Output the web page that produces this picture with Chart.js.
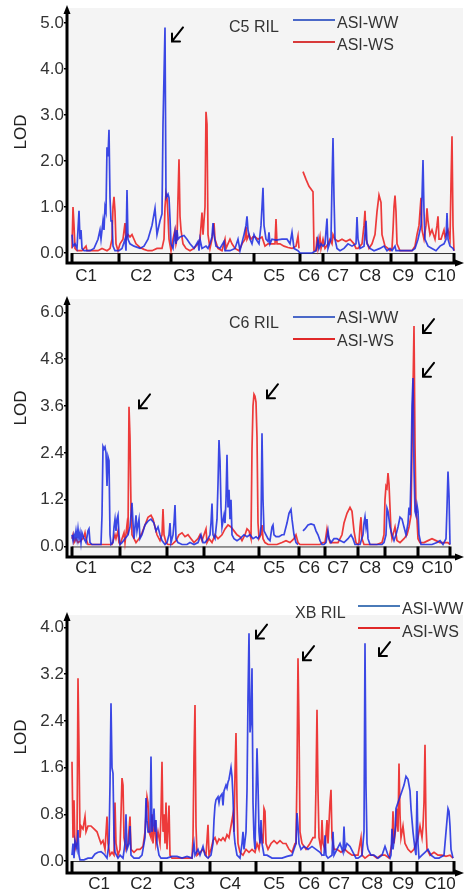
<!DOCTYPE html>
<html>
<head>
  <title>ASI LOD profiles</title>
  <script src="https://cdn.jsdelivr.net/npm/chart.js"></script>
  <style>
    body {
      margin: 0;
      background: #fff;
      font-family: 'Liberation Sans', Arial, sans-serif;
      width: 466px;
      height: 893px;
      position: relative;
      overflow: hidden;
    }
    canvas { position: absolute; left: 0; }
    .txt { position: absolute; font-size: 16px; color: #333; line-height: 18px; white-space: nowrap; }
    .lod { position: absolute; font-size: 17px; color: #222; transform: rotate(-90deg); transform-origin: center; width: 40px; text-align: center; line-height: 20px; }
    .key { position: absolute; width: 42px; height: 2px; }
  </style>
</head>
<body>
  <canvas id="c5" width="466" height="290" style="top:0"></canvas>
  <canvas id="c6" width="466" height="300" style="top:290px"></canvas>
  <canvas id="xb" width="466" height="303" style="top:590px"></canvas>

  <!-- axis titles and legends -->
  <div class="lod" style="left:1px;top:122px">LOD</div>
  <div class="lod" style="left:1px;top:398px">LOD</div>
  <div class="lod" style="left:1px;top:727px">LOD</div>

  <div class="txt" style="left:229px;top:18px">C5 RIL</div>
  <div class="key" style="left:293px;top:19px;background:#4a68c8"></div>
  <div class="txt" style="left:337px;top:14px">ASI-WW</div>
  <div class="key" style="left:293px;top:41px;background:#d83a3a"></div>
  <div class="txt" style="left:337px;top:36px">ASI-WS</div>

  <div class="txt" style="left:229px;top:314px">C6 RIL</div>
  <div class="key" style="left:293px;top:316px;background:#4a68c8"></div>
  <div class="txt" style="left:337px;top:309px">ASI-WW</div>
  <div class="key" style="left:293px;top:338px;background:#e02828"></div>
  <div class="txt" style="left:337px;top:332px">ASI-WS</div>

  <div class="txt" style="left:295px;top:604px">XB RIL</div>
  <div class="key" style="left:358px;top:605px;background:#4a7ab8"></div>
  <div class="txt" style="left:402px;top:600px">ASI-WW</div>
  <div class="key" style="left:358px;top:627px;background:#e02828"></div>
  <div class="txt" style="left:402px;top:623px">ASI-WS</div>

  <script>
    // chromosome names and layout along the genome axis (position units)
    const chromNames = ['C1', 'C2', 'C3', 'C4', 'C5', 'C6', 'C7', 'C8', 'C9', 'C10'];

    const c5Bounds = [0, 47, 99, 138, 182, 228, 251, 285, 319, 344, 382];
    const c5LabelPos = [14, 69, 112, 150, 202, 237, 266, 298, 331, 368];
    const c5Ticks = [0, 1, 2, 3, 4, 5];
    const c5Arrows = [[100, 4.6]];

    const c6Bounds = [0, 48, 95, 132, 187, 227, 253, 286, 313, 346, 378];
    const c6LabelPos = [14, 69, 112, 152, 202, 237, 266, 298, 331, 365];
    const c6Ticks = [0, 1.2, 2.4, 3.6, 4.8, 6.0];
    const c6Arrows = [[67, 3.54], [195, 3.8], [351, 5.47], [351, 4.35]];

    const xbBounds = [0, 47, 89, 138, 184, 228, 251, 285, 319, 345, 382];
    const xbLabelPos = [27, 69, 112, 158, 202, 237, 267, 300, 331, 368];
    const xbTicks = [0, 0.8, 1.6, 2.4, 3.2, 4.0];
    const xbArrows = [[184, 3.81], [231, 3.44], [307, 3.51]];

    // LOD profiles, [position, LOD]
    const c5WW = [[0,0.4],[1,0.15],[3,0.2],[5,0.1],[7,0.92],[8,0.3],[9,0.5],[10,0.1],[12,0.05],[18,0.05],[22,0.1],[26,0.3],[28,0.5],[29,0.3],[31,0.7],[32,0.5],[33,1.0],[34,0.9],[35,2.3],[36,2.1],[37,2.68],[38,1.2],[39,0.7],[40,0.7],[41,0.15],[43,0.05],
      [47,0.05],[50,0.1],[53,0.3],[54,0.05],[55,1.37],[56,0.3],[58,0.2],[62,0.15],[68,0.1],[72,0.15],[76,0.3],[78,0.45],[80,0.6],[83,0.97],[85,0.4],[88,0.7],[90,0.85],[91,2.8],[93,4.9],[94,1.2],[96,1.28],[97,1.2],[98,0.75],[99,0.2],
      [101,0.1],[103,0.45],[104,0.2],[105,0.5],[106,0.3],[108,0.35],[112,0.38],[115,0.3],[118,0.2],[122,0.1],[126,0.25],[127,0.05],[128,0.3],[130,0.1],[134,0.15],[136,0.1],[138,0.2],
      [140,0.35],[141,0.65],[142,0.4],[144,0.15],[148,0.1],[152,0.25],[153,0.05],[158,0.05],[163,0.1],[166,0.3],[168,0.05],[172,0.4],[174,0.6],[175,0.8],[176,0.5],[178,0.3],[180,0.2],[182,0.4],
      [184,0.3],[187,0.2],[189,0.6],[190,1.0],[191,1.42],[192,0.6],[194,0.3],[196,0.25],[197,0.45],[198,0.2],[200,0.3],[204,0.28],[210,0.3],[215,0.3],[218,0.2],[220,0.45],[222,0.1],[226,0.05],
      [228,0],[240,0],[244,0.05],[246,0.3],[247,0.1],[249,0.2],[251,0.15],
      [253,0.2],[255,0.75],[256,0.1],[259,0.3],[260,1.5],[261,2.5],[262,1.2],[263,0.3],[265,0.1],[268,0.05],[272,0.1],[276,0.2],[280,0.15],[284,0.2],
      [285,0.78],[286,0.3],[288,0.1],[292,0.15],[294,0.7],[295,0.2],[298,0.1],[302,0.05],[308,0.1],[312,0.15],[315,0.05],[318,0.1],
      [320,0.05],[323,0.15],[324,0.05],[330,0.05],[336,0.05],[340,0.05],[343,0.1],
      [346,0.3],[349,0.6],[350,1.2],[351,2.02],[352,0.9],[353,0.3],[356,0.15],[360,0.1],[364,0.05],[368,0.15],[372,0.2],[374,0.3],[375,0.87],[376,0.3],[378,0.15],[381,0.1],[382,0.05]];

    const c5WS = [[0,0.1],[1,1.0],[2,0.6],[3,0.1],[5,0.05],[10,0.05],[14,0.15],[15,0.05],[20,0.05],[26,0.05],[30,0.1],[35,0.05],[38,0.1],[40,0.3],[41,1.0],[42,1.22],[43,0.9],[44,0.2],[46,0.05],
      [48,0.2],[51,0.3],[53,0.65],[54,0.3],[56,0.4],[58,0.35],[60,0.4],[62,0.3],[64,0.2],[68,0.12],[72,0.08],[76,0.05],[80,0.05],[85,0.1],[90,0.1],[92,0.3],[93,1.0],[94,1.3],[95,1.2],[96,0.8],[97,0.3],[99,0.05],
      [101,0.3],[103,0.5],[104,0.2],[105,0.3],[106,1.2],[107,2.04],[108,0.8],[109,0.5],[111,0.2],[114,0.1],[118,0.05],[122,0.1],[126,0.2],[128,0.3],[130,0.88],[131,0.4],[133,1.0],[134,3.07],[135,2.8],[136,0.4],[138,0.1],
      [140,0.3],[142,0.65],[143,0.3],[146,0.1],[150,0.05],[153,0.3],[154,0.1],[158,0.3],[160,0.2],[163,0.1],[167,0.05],[170,0.2],[173,0.3],[174,0.57],[175,0.3],[177,0.4],[179,0.3],[181,0.35],
      [183,0.35],[186,0.3],[190,0.35],[193,0.15],[196,0.2],[200,0.2],[203,0.2],[204,0.74],[205,0.2],[208,0.2],[212,0.15],[216,0.12],[220,0.1],[224,0.15],[226,0.37],[227,0.1],
      [229,null],[231,1.77],[234,1.6],[237,1.45],[241,1.33],[242,0.05],[244,0.05],[245,0.35],[246,0.1],[248,0.35],[249,0.1],[251,0.3],
      [253,0.1],[256,0.2],[258,0.3],[260,0.2],[261,0.4],[263,0.3],[266,0.25],[270,0.3],[274,0.25],[278,0.3],[282,0.2],[284,0.1],
      [286,0.1],[290,0.2],[292,0.6],[293,0.92],[294,0.3],[297,0.1],[300,0.2],[303,0.4],[305,0.9],[307,1.26],[309,1.1],[310,0.4],[313,0.15],[316,0.1],[318,0.05],
      [320,0.1],[321,0.5],[322,1.0],[323,1.25],[324,0.9],[325,0.2],[328,0.05],[335,0.05],[340,0.05],[343,0.15],
      [345,0.4],[347,0.6],[349,1.2],[350,0.5],[352,0.3],[354,0.6],[355,0.97],[356,0.7],[358,0.4],[360,0.5],[363,0.3],[365,0.6],[366,0.8],[367,0.3],[369,0.3],[372,0.5],[373,0.35],[376,0.5],[378,0.3],[379,1.5],[380,2.54],[381,0.6],[382,0.05]];

    const c6WW = [[0,0.3],[1,0.15],[2,0.3],[3,0.2],[4,0.4],[5,0.2],[6,0.45],[7,0.2],[8,0.35],[9,0.1],[10,0.35],[12,0.2],[14,0.1],[16,0.4],[17,0.45],[18,0.1],[20,0.05],[25,0.05],[29,0.05],[30,0.8],[31,2.56],[32,2.5],[33,2.55],[34,2.4],[35,1.55],[36,2.3],[37,2.2],[38,0.3],[39,0.05],[41,0.1],[42,0.5],[43,0.7],[44,0.4],[45,0.7],[46,0.8],[47,0.3],[48,0.05],
      [50,0.1],[53,0.2],[56,0.3],[58,0.5],[60,1.12],[61,0.6],[62,0.2],[64,0.8],[65,0.4],[67,0.7],[68,0.2],[70,0.3],[73,0.55],[76,0.65],[79,0.7],[82,0.6],[84,0.4],[86,0.5],[88,0.3],[90,0.15],[93,0.05],[95,0.1],
      [97,0.3],[98,0.6],[99,0.1],[101,0.3],[102,0.6],[103,1.06],[104,0.2],[106,0.1],[110,0.05],[115,0.05],[118,0.1],[122,0.05],[126,0.1],[129,0.3],[131,0.1],
      [133,0.1],[136,0.2],[138,0.3],[139,0.6],[140,1.1],[141,0.3],[143,0.2],[145,0.7],[146,1.6],[147,2.73],[148,2.2],[149,1.0],[150,0.5],[152,0.8],[153,0.6],[154,1.2],[155,2.35],[156,1.0],[157,1.45],[158,0.7],[159,1.2],[160,0.3],[162,0.2],[165,0.15],[168,0.2],[172,0.3],[175,0.25],[178,0.3],[181,0.2],[184,0.25],[186,0.2],
      [188,0.3],[189,0.5],[190,2.9],[191,1.2],[192,0.4],[194,0.3],[196,0.2],[198,0.15],[200,0.5],[201,0.55],[202,0.3],[204,0.25],[207,0.25],[210,0.3],[212,0.3],[215,0.6],[217,0.85],[219,0.95],[220,0.7],[222,0.3],[224,0.1],[226,0.05],
      [228,null],[231,0.4],[233,0.45],[236,0.55],[239,0.58],[242,0.55],[244,0.4],[246,0.3],[248,0.15],[250,0.05],[252,0.05],
      [254,0.1],[256,0.4],[257,0.2],[259,0.1],[262,0.2],[265,0.2],[268,0.15],[272,0.1],[276,0.2],[279,0.3],[281,0.2],[283,0.05],[286,0.05],
      [288,0.05],[291,0.3],[292,0.6],[293,0.76],[294,0.5],[295,0.7],[296,0.2],[298,0.05],[302,0.05],[306,0.05],[310,0.05],[312,0.1],
      [314,0.3],[315,0.98],[316,0.9],[318,0.5],[320,0.3],[322,0.15],[324,0.3],[326,0.5],[328,0.75],[330,0.7],[332,0.5],[334,0.3],[336,0.6],[337,1.0],[338,0.8],[339,1.8],[340,3.6],[341,4.32],[342,2.0],[343,0.9],[344,0.8],[345,1.06],[346,0.9],[347,0.3],
      [349,0.05],[355,0.05],[360,0.05],[365,0.1],[368,0.15],[371,0.05],[374,0.2],[375,1.0],[376,1.92],[377,1.3],[378,0.05]];

    const c6WS = [[0,0.2],[1,0.3],[2,0.1],[4,0.2],[6,0.1],[9,0.15],[12,0.25],[13,0.35],[14,0.2],[16,0.05],[20,0.05],[25,0.05],[30,0.05],[35,0.05],[40,0.05],[43,0.3],[44,0.2],[46,0.4],[47,0.1],[48,0.05],
      [50,0.2],[52,0.35],[53,0.1],[55,0.55],[56,0.3],[57,3.58],[58,2.8],[59,1.0],[60,0.3],[62,0.2],[64,0.1],[67,0.2],[70,0.35],[73,0.55],[76,0.75],[79,0.8],[81,0.7],[83,0.5],[85,0.3],[88,0.15],[90,0.3],[91,0.96],[92,0.3],[94,0.1],
      [96,0.05],[100,0.05],[104,0.15],[107,0.3],[110,0.35],[113,0.25],[116,0.3],[119,0.2],[122,0.1],[126,0.2],[128,0.3],[130,0.15],
      [132,0.3],[134,0.45],[135,0.1],[137,0.2],[140,0.1],[143,0.3],[146,0.2],[150,0.3],[153,0.45],[156,0.55],[159,0.5],[162,0.4],[165,0.3],[168,0.25],[170,0.15],[173,0.3],[175,0.45],[177,0.4],[179,0.2],[180,2.5],[181,3.6],[182,3.9],[183,3.85],[184,3.7],[185,2.8],[186,0.6],[187,0.2],
      [189,0.3],[190,0.55],[191,0.2],[193,0.1],[196,0.05],[200,0.05],[205,0.05],[210,0.1],[214,0.15],[218,0.1],[222,0.2],[224,0.3],[226,0.1],
      [228,0.05],[232,0.05],[238,0.05],[244,0.05],[248,0.05],[251,0.1],
      [253,0.1],[255,0.45],[256,0.3],[258,0.1],[262,0.1],[266,0.1],[270,0.3],[272,0.6],[275,0.85],[278,1.0],[280,0.9],[282,0.4],[284,0.1],[286,0.05],
      [287,0.1],[288,0.5],[289,0.75],[290,0.2],[292,0.05],[296,0.05],[300,0.05],[305,0.05],[310,0.1],[312,0.3],
      [313,1.2],[314,1.55],[315,1.5],[316,1.88],[317,1.6],[318,1.0],[319,0.4],[320,0.2],[322,0.4],[323,0.5],[325,0.15],[328,0.1],[332,0.2],[335,0.3],[337,0.5],[339,0.8],[340,2.5],[341,4.0],[342,5.65],[343,2.6],[344,0.9],[345,0.7],[346,0.2],
      [348,0.1],[352,0.1],[356,0.15],[360,0.2],[364,0.15],[368,0.1],[372,0.1],[376,0.1],[378,0.05]];

    const xbWW = [[0,0.1],[1,0.3],[2,0.05],[3,0.35],[5,0.2],[6,0.53],[7,0.1],[8,0.02],[12,0.02],[16,0.05],[20,0.05],[23,0.12],[26,0.15],[29,0.16],[32,0.12],[35,0.05],[37,0.3],[38,1.3],[39,2.7],[40,1.6],[41,1.5],[42,0.4],[43,0.15],[46,0.05],
      [48,0.1],[51,0.05],[53,0.3],[54,0.8],[55,0.2],[57,0.3],[58,0.6],[59,0.1],[62,0.05],[67,0.05],[70,0.1],[73,0.4],[74,1.08],[75,0.7],[76,0.5],[78,0.5],[79,1.79],[80,0.5],[81,0.6],[82,0.9],[83,0.5],[84,0.7],[85,0.3],[87,0.1],[89,0.05],
      [90,0.05],[95,0.05],[100,0.08],[105,0.08],[110,0.05],[115,0.08],[120,0.05],[122,0.3],[123,0.1],[126,0.2],[128,0.1],[131,0.25],[133,0.1],[136,0.05],
      [139,0.1],[141,0.3],[142,0.7],[143,0.95],[144,1.05],[146,1.1],[147,1.0],[148,1.1],[150,1.15],[151,0.95],[152,1.2],[154,1.3],[155,1.25],[156,1.35],[157,1.4],[158,1.5],[159,1.6],[160,1.45],[161,1.1],[162,0.5],[163,0.3],[165,0.1],[168,0.05],[170,0.3],[171,0.5],[172,0.2],[174,0.5],[175,1.2],[176,2.8],[177,3.9],[178,2.2],[179,2.4],[180,3.3],[181,1.0],[182,0.4],[183,0.2],
      [185,1.93],[186,1.3],[187,0.5],[188,0.3],[189,0.7],[190,0.3],[192,0.1],[195,0.1],[200,0.05],[205,0.05],[210,0.05],[215,0.08],[220,0.1],[222,0.2],[224,0.3],[225,0.82],[226,0.6],[227,0.3],
      [229,0.2],[232,0.25],[236,0.2],[240,0.25],[244,0.2],[248,0.15],[250,0.1],
      [252,0.1],[253,0.44],[254,0.1],[256,0.05],[260,0.1],[261,0.5],[262,0.1],[265,0.2],[268,0.3],[271,0.15],[272,0.59],[273,0.2],[275,0.3],[278,0.25],[281,0.15],[284,0.05],
      [286,0.05],[290,0.1],[292,0.5],[293,3.73],[294,1.27],[295,0.3],[296,0.2],[299,0.1],[302,0.1],[306,0.05],[310,0.1],[313,0.25],[314,0.2],[316,0.1],[318,0.05],
      [319,0.1],[320,0.55],[321,0.2],[323,0.5],[324,0.9],[326,1.0],[328,1.1],[330,1.2],[332,1.3],[334,1.45],[336,1.4],[338,1.2],[339,0.9],[341,0.5],[343,0.2],[344,0.1],[345,1.2],[346,0.3],[347,0.05],
      [350,0.1],[353,0.15],[356,0.2],[359,0.1],[363,0.05],[367,0.05],[372,0.1],[374,0.5],[376,0.9],[377,0.85],[378,0.6],[379,0.2],[381,0.05]];

    const xbWS = [[0,1.7],[1,0.4],[2,1.04],[3,0.2],[5,0.3],[6,3.13],[7,1.9],[8,0.4],[9,0.6],[11,0.55],[13,0.76],[14,0.5],[16,0.6],[19,0.6],[22,0.55],[25,0.5],[27,0.4],[29,0.3],[31,0.35],[33,0.2],[35,0.76],[36,0.3],[38,0.1],[40,0.15],[42,0.1],[43,1.0],[44,0.3],[46,0.1],
      [48,0.2],[49,0.8],[50,1.42],[51,1.3],[52,0.4],[54,0.2],[56,0.3],[58,0.76],[59,0.2],[62,0.15],[65,0.2],[68,0.2],[71,0.25],[73,0.5],[75,1.1],[76,1.0],[77,0.5],[79,0.4],[80,0.8],[81,0.3],[83,0.7],[84,0.3],[86,0.5],[88,0.3],
      [89,0.8],[90,1.7],[91,0.5],[92,0.8],[93,0.3],[94,1.0],[95,0.2],[97,0.95],[98,0.1],[100,0.05],[105,0.05],[110,0.05],[115,0.05],[120,0.05],[121,0.4],[122,1.8],[123,2.67],[124,0.6],[125,0.1],[128,0.15],[131,0.2],[134,0.1],[136,0.62],[137,0.1],
      [139,0.2],[141,0.35],[143,0.4],[145,0.3],[147,0.38],[149,0.35],[151,0.4],[153,0.35],[155,0.45],[157,0.4],[159,0.6],[161,0.8],[162,0.5],[163,1.5],[164,2.19],[165,1.0],[166,0.3],[168,0.15],[171,0.1],[174,0.2],[177,0.15],[180,0.2],[183,0.15],
      [185,0.3],[187,0.2],[189,0.5],[191,0.3],[192,0.9],[193,0.85],[194,0.3],[196,0.2],[199,0.3],[202,0.35],[205,0.3],[208,0.35],[211,0.3],[214,0.3],[217,0.2],[220,0.15],[223,0.3],
      [224,0.3],[225,1.5],[226,3.47],[227,2.3],[228,0.5],[230,0.3],[234,0.2],[238,0.3],[241,0.4],[243,0.4],[244,1.3],[245,2.59],[246,1.2],[247,0.4],[249,0.2],[250,0.7],
      [251,0.3],[253,0.2],[255,0.7],[256,0.3],[258,1.0],[259,1.22],[260,0.4],[262,0.2],[265,0.2],[269,0.15],[273,0.2],[276,0.15],[280,0.1],[284,0.1],
      [286,0.1],[289,0.4],[290,0.1],[293,0.05],[297,0.1],[301,0.1],[305,0.05],[309,0.1],[313,0.1],[317,0.05],
      [320,0.3],[321,0.85],[322,0.3],[324,0.6],[325,0.9],[326,0.5],[327,1.67],[328,0.8],[329,0.4],[331,0.6],[333,0.3],[336,0.2],[339,0.15],[342,0.2],[344,0.3],
      [346,0.4],[348,0.6],[350,0.4],[351,0.6],[352,1.0],[353,1.99],[354,0.6],[355,0.2],[358,0.1],[362,0.15],[366,0.1],[370,0.1],[374,0.08],[378,0.1],[381,0.05]];

    const blue = 'rgba(25, 40, 225, 0.85)';
    const red = 'rgba(235, 25, 25, 0.85)';
    const tickFont = { family: "'Liberation Sans', Arial, sans-serif", size: 17 };
    const chromFont = { family: "'Liberation Sans', Arial, sans-serif", size: 17 };

    function toPoints(arr) {
      return arr.map(p => ({ x: p[0], y: p[1] }));
    }

    // draws plot background, chromosome boxes, axis arrows and the QTL arrows
    function decorPlugin(cfg) {
      return {
        id: 'decor',
        beforeDraw(chart) {
          const a = chart.chartArea, ctx = chart.ctx;
          ctx.save();
          ctx.fillStyle = '#f4f4f4';
          ctx.fillRect(a.left, a.top - 6, a.right - a.left, a.bottom - a.top + 6);
          ctx.restore();
        },
        beforeDatasetsDraw(chart) {
          const x = chart.scales.x, y = chart.scales.y, ctx = chart.ctx;
          const y0 = y.getPixelForValue(0), yb = chart.chartArea.bottom;
          ctx.save();
          ctx.strokeStyle = '#333';
          ctx.lineWidth = 1;
          ctx.beginPath();
          ctx.moveTo(x.getPixelForValue(cfg.bounds[0]), y0 + 0.5);
          ctx.lineTo(x.getPixelForValue(cfg.bounds[cfg.bounds.length - 1]), y0 + 0.5);
          ctx.stroke();
          ctx.strokeStyle = '#000';
          ctx.lineWidth = 3;
          cfg.bounds.forEach(b => {
            const px = x.getPixelForValue(b);
            ctx.beginPath();
            ctx.moveTo(px, y0);
            ctx.lineTo(px, yb);
            ctx.stroke();
          });
          ctx.restore();
        },
        afterDraw(chart) {
          const a = chart.chartArea, ctx = chart.ctx;
          const x = chart.scales.x, y = chart.scales.y;
          ctx.save();
          ctx.strokeStyle = '#000';
          ctx.fillStyle = '#000';
          ctx.lineWidth = 3;
          // axes
          ctx.beginPath();
          ctx.moveTo(a.left, a.bottom);
          ctx.lineTo(a.left, a.top - 2);
          ctx.moveTo(a.left - 1.5, a.bottom);
          ctx.lineTo(a.right - 4, a.bottom);
          ctx.stroke();
          ctx.beginPath();
          ctx.moveTo(a.left, a.top - 9);
          ctx.lineTo(a.left - 3.5, a.top);
          ctx.lineTo(a.left + 3.5, a.top);
          ctx.closePath();
          ctx.fill();
          ctx.beginPath();
          ctx.moveTo(a.right + 1, a.bottom);
          ctx.lineTo(a.right - 8, a.bottom - 3.5);
          ctx.lineTo(a.right - 8, a.bottom + 3.5);
          ctx.closePath();
          ctx.fill();
          // QTL arrows
          ctx.lineWidth = 2;
          ctx.lineCap = 'round';
          cfg.arrows.forEach(p => {
            const tx = x.getPixelForValue(p[0]), ty = y.getPixelForValue(p[1]);
            ctx.beginPath();
            ctx.moveTo(tx + 11, ty - 14);
            ctx.lineTo(tx, ty);
            ctx.moveTo(tx, ty - 8);
            ctx.lineTo(tx, ty);
            ctx.lineTo(tx + 8, ty);
            ctx.stroke();
          });
          ctx.restore();
        }
      };
    }

    function makePanel(id, cfg) {
      return new Chart(document.getElementById(id), {
        type: 'line',
        data: {
          datasets: [
            { label: 'ASI-WW', data: toPoints(cfg.ww), borderColor: blue, borderWidth: 1.7, pointRadius: 0, tension: 0, spanGaps: false },
            { label: 'ASI-WS', data: toPoints(cfg.ws), borderColor: red, borderWidth: 1.7, pointRadius: 0, tension: 0, spanGaps: false }
          ]
        },
        options: {
          responsive: false,
          animation: false,
          events: [],
          layout: { autoPadding: false, padding: { top: cfg.padTop, right: 3, left: 0, bottom: 0 } },
          plugins: { legend: { display: false }, tooltip: { enabled: false } },
          scales: {
            x: {
              type: 'linear',
              min: -5,
              max: 391,
              grid: { display: false, drawTicks: false },
              border: { display: false },
              afterFit: s => { s.height = cfg.xHeight; },
              afterBuildTicks: s => { s.ticks = cfg.labelPos.map(v => ({ value: v })); },
              ticks: {
                autoSkip: false,
                maxRotation: 0,
                padding: cfg.labelPad,
                color: '#222',
                font: chromFont,
                callback: (v, i) => chromNames[i]
              }
            },
            y: {
              min: cfg.yMin,
              max: cfg.yMax,
              grid: { display: true, drawOnChartArea: false, tickLength: 3, tickColor: '#000', lineWidth: 1.5 },
              border: { display: false },
              afterFit: s => { s.width = 67; },
              afterBuildTicks: s => { s.ticks = cfg.ticks.map(v => ({ value: v })); },
              ticks: {
                padding: 0,
                color: '#333',
                font: tickFont,
                callback: v => v.toFixed(1)
              }
            }
          }
        },
        plugins: [decorPlugin(cfg)]
      });
    }

    makePanel('c5', { ww: c5WW, ws: c5WS, bounds: c5Bounds, labelPos: c5LabelPos, ticks: c5Ticks, arrows: c5Arrows,
      yMin: -0.217, yMax: 5.196, padTop: 14, xHeight: 27, labelPad: 3 });
    makePanel('c6', { ww: c6WW, ws: c6WS, bounds: c6Bounds, labelPos: c6LabelPos, ticks: c6Ticks, arrows: c6Arrows,
      yMin: -0.27, yMax: 6.19, padTop: 15, xHeight: 33, labelPad: 1 });
    makePanel('xb', { ww: xbWW, ws: xbWS, bounds: xbBounds, labelPos: xbLabelPos, ticks: xbTicks, arrows: xbArrows,
      yMin: -0.205, yMax: 4.11, padTop: 31, xHeight: 20, labelPad: 1 });
  </script>
</body>
</html>
